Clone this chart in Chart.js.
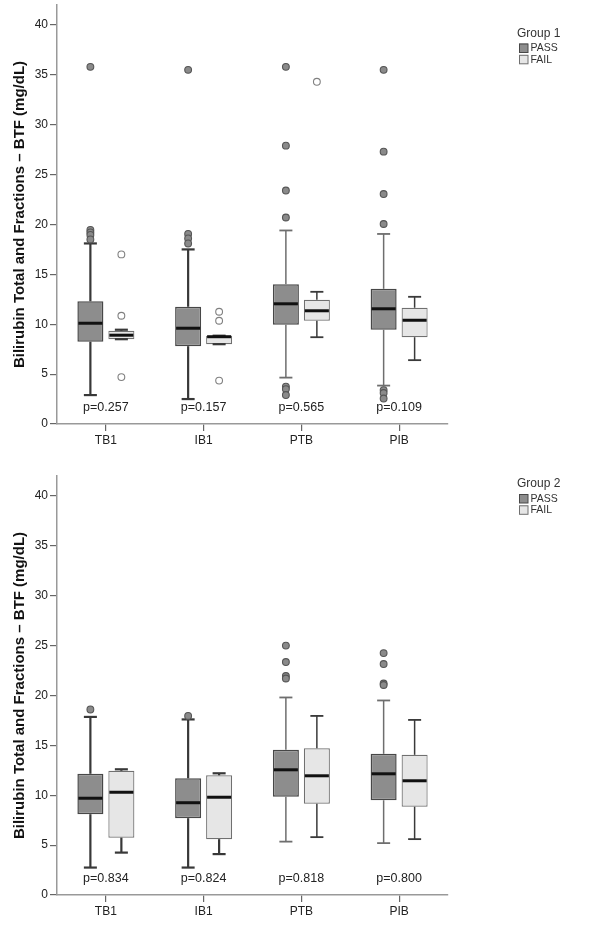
<!DOCTYPE html>
<html><head><meta charset="utf-8">
<script src="https://cdn.jsdelivr.net/npm/chart.js@4.4.0/dist/chart.umd.min.js"></script>
<style>
html,body{margin:0;padding:0;background:#fff;width:590px;height:944px;overflow:hidden}
.wrap{position:absolute;left:0;width:590px;height:470px}
</style></head><body>
<div class="wrap" style="top:0"><canvas id="c1" width="590" height="470"></canvas></div>
<div class="wrap" style="top:471px"><canvas id="c2" width="590" height="470"></canvas></div>
<script>
const categories = ['TB1', 'IB1', 'PTB', 'PIB'];
const seriesNames = ['PASS', 'FAIL'];
const yTitle = 'Bilirubin Total and Fractions \u2013 BTF (mg/dL)';
// each entry: [lower whisker, Q1, median, Q3, upper whisker]
const g1Pass = [[2.9, 8.25, 10.1, 12.3, 18.1], [2.5, 7.8, 9.6, 11.75, 17.5], [4.65, 9.95, 12.05, 14.0, 19.4], [3.85, 9.45, 11.55, 13.55, 19.05]];
const g1Fail = [[8.5, 8.5, 8.9, 9.35, 9.45], [8.0, 8.0, 8.75, 8.82, 8.85], [8.7, 10.35, 11.35, 12.45, 13.25], [6.4, 8.7, 10.4, 11.65, 12.75]];
const g1PassOut = [[35.8, 19.45, 19.2, 18.95, 18.5], [35.5, 19.05, 18.6, 18.1], [35.8, 27.9, 23.4, 20.7, 3.75, 3.5, 2.9], [35.5, 27.3, 23.05, 20.05, 3.4, 3.1, 2.55]];
const g1FailOut = [[17.0, 10.85, 4.7], [11.25, 10.35, 4.35], [34.3], []];
const g1P = ['p=0.257', 'p=0.157', 'p=0.565', 'p=0.109'];
const g2Pass = [[2.75, 8.1, 9.7, 12.15, 17.85], [2.75, 7.7, 9.25, 11.7, 17.6], [5.35, 9.85, 12.55, 14.55, 19.8], [5.2, 9.5, 12.15, 14.15, 19.5]];
const g2Fail = [[4.25, 5.75, 10.3, 12.45, 12.6], [4.1, 5.6, 9.8, 12.0, 12.2], [5.8, 9.15, 11.95, 14.7, 17.95], [5.6, 8.85, 11.45, 14.05, 17.55]];
const g2PassOut = [[18.6], [17.95], [25.0, 23.35, 21.95, 21.7], [24.25, 23.15, 21.2, 21.05]];
const g2FailOut = [[], [], [], []];
const g2P = ['p=0.834', 'p=0.824', 'p=0.818', 'p=0.800'];

const FONT = "'Liberation Sans', Arial, Helvetica, sans-serif";
Chart.defaults.font.family = FONT;

const PASS_FILL = '#8d8d8d', PASS_EDGE = '#474747';
const FAIL_FILL = '#e6e6e6', FAIL_EDGE = '#707070';

function line(ctx, x1, y1, x2, y2) { ctx.beginPath(); ctx.moveTo(x1, y1); ctx.lineTo(x2, y2); ctx.stroke(); }

const boxExtras = {
  id: 'boxExtras',
  afterDatasetsDraw(chart) {
    const ctx = chart.ctx, ys = chart.scales.y, xs = chart.scales.x;
    const Y = v => ys.getPixelForValue(v);
    chart.data.datasets.forEach((ds, di) => {
      const meta = chart.getDatasetMeta(di);
      meta.data.forEach((bar, i) => {
        const s = ds.stats[i];
        const cx = bar.x, w = bar.width;
        ctx.save();
        ctx.strokeStyle = i < 2 ? '#383838' : (di === 1 ? '#3a3a3a' : '#6e6e6e');
        ctx.lineWidth = i < 2 ? 2.2 : 1.5;
        line(ctx, cx, Y(s[3]), cx, Y(s[4]));
        line(ctx, cx, Y(s[1]), cx, Y(s[0]));
        ctx.lineWidth = i < 2 ? 2.2 : 1.8;
        line(ctx, cx - w / 4, Y(s[4]), cx + w / 4, Y(s[4]));
        line(ctx, cx - w / 4, Y(s[0]), cx + w / 4, Y(s[0]));
        ctx.strokeStyle = '#111';
        ctx.lineWidth = 3;
        line(ctx, cx - w / 2 + 1, Y(s[2]), cx + w / 2 - 1, Y(s[2]));
        ds.outliers[i].forEach(v => {
          ctx.beginPath();
          ctx.arc(cx, Y(v), 3.4, 0, Math.PI * 2);
          ctx.fillStyle = di === 0 ? '#8a8a8a' : '#ffffff';
          ctx.fill();
          ctx.lineWidth = 1.1;
          ctx.strokeStyle = di === 0 ? '#555' : '#808080';
          ctx.stroke();
        });
        ctx.restore();
      });
    });
    const opts = chart.options.plugins.boxExtras;
    ctx.save();
    ctx.fillStyle = '#222';
    ctx.font = '12.5px ' + FONT;
    ctx.textAlign = 'center';
    ctx.textBaseline = 'middle';
    opts.pTexts.forEach((t, i) => ctx.fillText(t, xs.getPixelForValue(i), Y(1.65)));
    // legend
    const lx = 517, ly = opts.legendY;
    ctx.textAlign = 'left';
    ctx.font = '12px ' + FONT;
    ctx.fillStyle = '#333';
    ctx.fillText(opts.group, lx, ly);
    ctx.font = '10.5px ' + FONT;
    chart.data.datasets.forEach((ds, di) => {
      const top = ly + 14.5 + di * 11.3 - 4.5;
      ctx.fillStyle = ds.backgroundColor;
      ctx.fillRect(lx + 2, top, 9, 9);
      ctx.strokeStyle = ds.borderColor;
      ctx.lineWidth = 1;
      ctx.strokeRect(lx + 2.5, top + 0.5, 8.5, 8.5);
      ctx.fillStyle = '#333';
      ctx.fillText(ds.label, lx + 13.5, top + 5);
    });
    ctx.restore();
  }
};

function makeChart(id, group, pass, fail, passOut, failOut, pTexts, legendY) {
  const axisFont = { family: FONT, size: 12 };
  return new Chart(document.getElementById(id), {
    type: 'bar',
    data: {
      labels: categories,
      datasets: [
        { label: seriesNames[0], data: pass.map(s => [s[1], s[3]]), stats: pass, outliers: passOut,
          backgroundColor: PASS_FILL, borderColor: PASS_EDGE, borderWidth: 1.5, borderSkipped: false,
          categoryPercentage: 0.634, barPercentage: 0.84 },
        { label: seriesNames[1], data: fail.map(s => [s[1], s[3]]), stats: fail, outliers: failOut,
          backgroundColor: FAIL_FILL, borderColor: FAIL_EDGE, borderWidth: 1.2, borderSkipped: false,
          categoryPercentage: 0.634, barPercentage: 0.84 }
      ]
    },
    options: {
      responsive: false, animation: false, devicePixelRatio: 1,
      layout: { padding: { top: 5, right: 142, left: 0, bottom: 0 } },
      plugins: { legend: { display: false }, tooltip: { enabled: false },
        boxExtras: { group, pTexts, legendY } },
      scales: {
        x: {
          type: 'category', offset: true,
          grid: { display: true, drawOnChartArea: false, drawTicks: true, tickLength: 7, offset: false, color: '#666', lineWidth: 1.2 },
          border: { display: true, color: '#999', width: 1.5 },
          ticks: { color: '#222', font: axisFont, padding: 2 },
          afterFit(s) { s.height = 46; s.paddingLeft = 0; s.paddingRight = 0; }
        },
        y: {
          min: 0, max: 42,
          ticks: { stepSize: 5, includeBounds: false, color: '#222', font: axisFont, padding: 2 },
          grid: { display: true, drawOnChartArea: false, drawTicks: true, tickLength: 7, color: '#666', lineWidth: 1.2 },
          border: { display: true, color: '#999', width: 1.5 },
          title: { display: true, text: yTitle, color: '#111', font: { family: FONT, size: 15, weight: 'bold' }, padding: { top: 11, bottom: 0 } },
          afterFit(s) { s.width = 57; s.paddingTop = 0; s.paddingBottom = 0; }
        }
      }
    },
    plugins: [boxExtras]
  });
}

makeChart('c1', 'Group 1', g1Pass, g1Fail, g1PassOut, g1FailOut, g1P, 33.5);
makeChart('c2', 'Group 2', g2Pass, g2Fail, g2PassOut, g2FailOut, g2P, 13);
</script>
</body></html>
